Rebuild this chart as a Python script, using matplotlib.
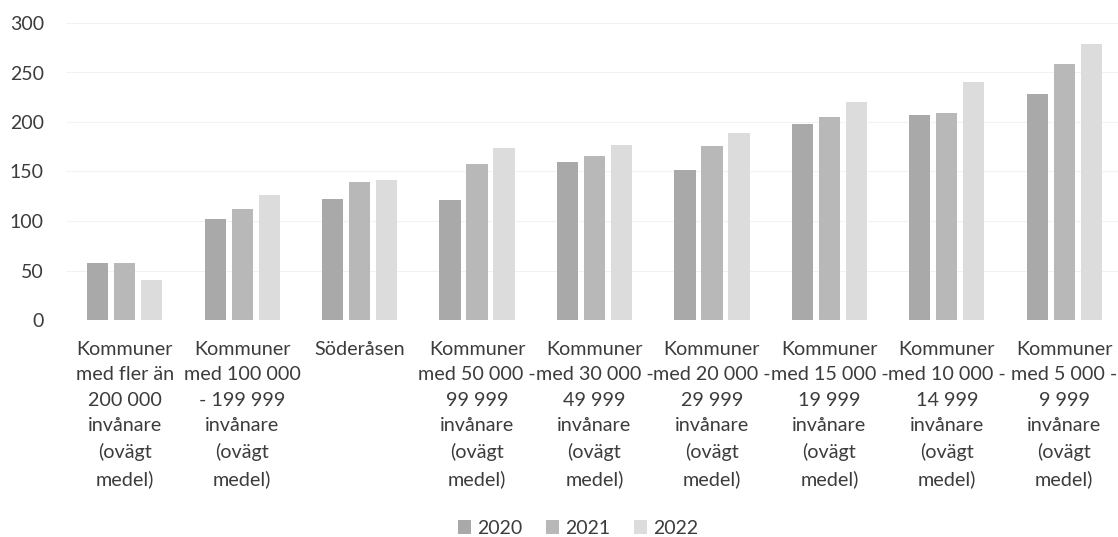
import numpy as np
import matplotlib
matplotlib.use("Agg")
import matplotlib.pyplot as plt
from matplotlib.patches import Patch

categories = [
    "Kommuner\nmed fler än\n200 000\ninvånare\n(ovägt\nmedel)",
    "Kommuner\nmed 100 000\n- 199 999\ninvånare\n(ovägt\nmedel)",
    "Söderåsen",
    "Kommuner\nmed 50 000 -\n99 999\ninvånare\n(ovägt\nmedel)",
    "Kommuner\nmed 30 000 -\n49 999\ninvånare\n(ovägt\nmedel)",
    "Kommuner\nmed 20 000 -\n29 999\ninvånare\n(ovägt\nmedel)",
    "Kommuner\nmed 15 000 -\n19 999\ninvånare\n(ovägt\nmedel)",
    "Kommuner\nmed 10 000 -\n14 999\ninvånare\n(ovägt\nmedel)",
    "Kommuner\nmed 5 000 -\n9 999\ninvånare\n(ovägt\nmedel)",
]
years = ["2020", "2021", "2022"]
values_2020 = [58, 102, 122, 121, 160, 152, 198, 207, 228]
values_2021 = [58, 112, 139, 158, 166, 176, 205, 209, 259]
values_2022 = [40, 126, 141, 174, 177, 189, 220, 240, 279]
yticks = [0, 50, 100, 150, 200, 250, 300]

colors = ["#a9a9a9", "#b8b8b8", "#dcdcdc"]
text_color = "#3c3c3c"

plt.rcParams["font.family"] = ["Lato", "DejaVu Sans"]

fig = plt.figure(figsize=(11.18, 5.37), dpi=100)
ax = fig.add_axes([66 / 1118, 217 / 537, 1057 / 1118, 297 / 537])

x = np.arange(len(categories))
step = 0.23
width = 0.18
for i, (vals, color) in enumerate(zip([values_2020, values_2021, values_2022], colors)):
    ax.bar(x + (i - 1) * step, vals, width=width, color=color, zorder=2)

ax.set_xlim(-0.5, len(categories) - 0.5)
ax.set_ylim(0, 300)
ax.set_yticks(yticks)
ax.set_xticks(x)
ax.set_xticklabels(categories, linespacing=1.6, fontsize=14.2)
ax.yaxis.grid(True, color="#f2f2f2", linewidth=0.8, zorder=0)
ax.set_axisbelow(True)

for side in ["top", "right", "left", "bottom"]:
    ax.spines[side].set_visible(False)
ax.tick_params(axis="both", length=0, labelcolor=text_color)
ax.tick_params(axis="y", labelsize=14, pad=16)
ax.tick_params(axis="x", pad=15)

# the last label sits against the right edge, nudge it in slightly
ax.get_xticklabels()[-1].set_x(len(categories) - 1.03)

handles = [Patch(facecolor=c, edgecolor="none") for c in colors]
fig.legend(handles, years, loc="center", bbox_to_anchor=(578 / 1118, 9 / 537),
           ncol=3, frameon=False, fontsize=14, labelcolor=text_color,
           handlelength=0.7, handleheight=0.7, handletextpad=0.3,
           columnspacing=1.2, borderpad=0)

fig.savefig("out.png", dpi=100)
